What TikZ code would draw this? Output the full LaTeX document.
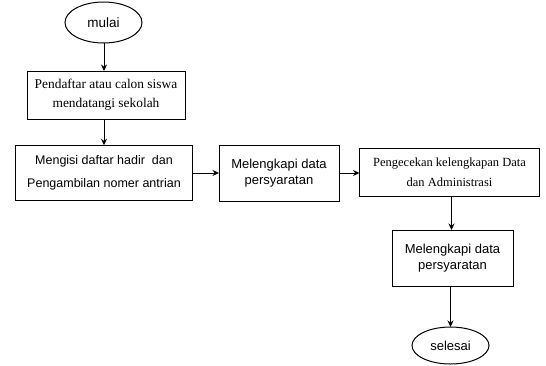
\documentclass[tikz,border=0pt]{standalone}
\usepackage{fontspec}
\setmainfont{Liberation Serif}
\newfontfamily\arialfont{Liberation Sans}
\usetikzlibrary{shapes.geometric,arrows.meta}
\begin{document}
\begin{tikzpicture}[x=1pt,y=-1pt,
  every node/.style={inner sep=0pt, outer sep=0pt},
  procbox/.style={draw, line width=1pt, rectangle, align=center},
  terminal/.style={draw, line width=1pt, ellipse},
  flow/.style={line width=1pt, -{Stealth[length=6.5pt,width=6pt]}}
]
\useasboundingbox (0,0) rectangle (546,365);

\node[terminal, minimum width=77pt, minimum height=41pt,
  font=\arialfont\fontsize{13.5}{15}\selectfont] (start) at (103.5,22.5) {mulai};

\node[procbox, minimum width=158pt, minimum height=48pt,
  font=\fontsize{13.4}{19}\selectfont] (reg) at (106,95)
  {Pendaftar atau calon siswa\\mendatangi sekolah};

\node[procbox, minimum width=177pt, minimum height=55.5pt,
  font=\arialfont\fontsize{12.5}{23}\selectfont] (fill) at (104,173)
  {Mengisi daftar hadir\ \ dan\\Pengambilan nomer antrian};

\node[procbox, minimum width=120pt, minimum height=56pt,
  font=\arialfont\fontsize{13}{16}\selectfont] (req1) at (279,173)
  {Melengkapi data\\persyaratan};

\node[procbox, minimum width=180pt, minimum height=48pt,
  font=\fontsize{12.5}{20}\selectfont] (check) at (449.5,172.5)
  {Pengecekan kelengkapan Data\\dan Administrasi};

\node[procbox, minimum width=121pt, minimum height=56pt,
  font=\arialfont\fontsize{13}{16}\selectfont] (req2) at (452.5,258)
  {Melengkapi data\\persyaratan};

\node[terminal, minimum width=77pt, minimum height=37pt,
  font=\arialfont\fontsize{13}{15}\selectfont] (finish) at (450.5,345.5) {selesai};

\draw[flow] (start.south -| reg.north) ++(-2,0) coordinate (a1) -- (a1 |- reg.north);
\draw[flow] (reg.south) ++(-2,0) coordinate (a2) -- (a2 |- fill.north);
\draw[flow] (fill.east) -- (req1.west);
\draw[flow] (req1.east) -- (check.west |- req1.east);
\draw[flow] (check.south) ++(2,0) coordinate (a3) -- (a3 |- req2.north);
\draw[flow] (req2.south) ++(-2,0) coordinate (a4) -- (a4 |- finish.north);
\end{tikzpicture}
\end{document}
